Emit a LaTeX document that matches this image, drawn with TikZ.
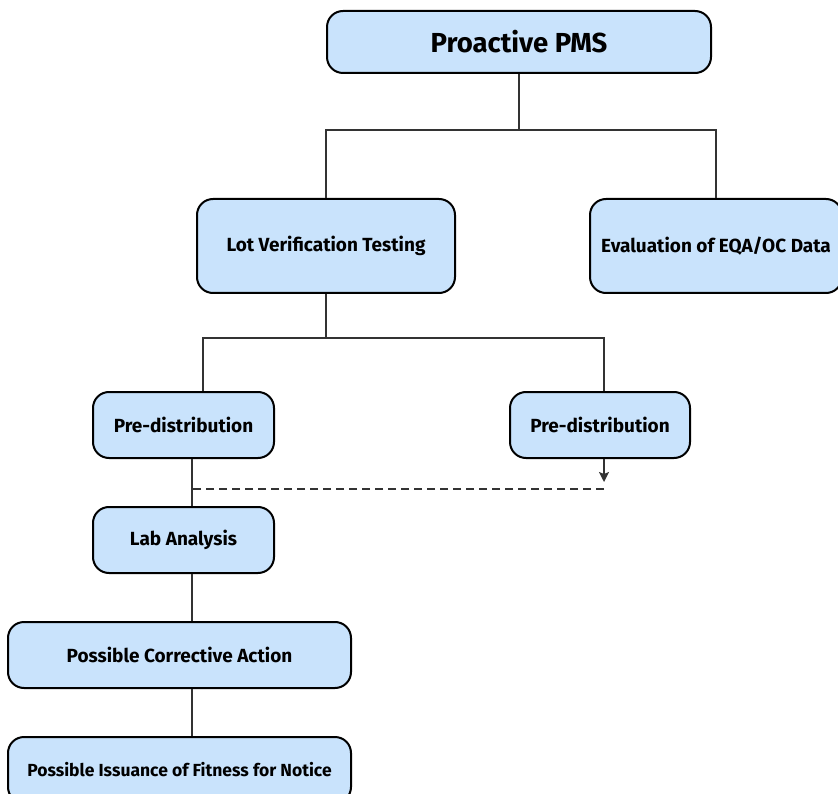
\documentclass[tikz,border=0pt]{standalone}
\usepackage{fontspec}
\setmainfont{Fira Sans}
\usetikzlibrary{arrows.meta}
\definecolor{boxblue}{RGB}{201,227,252}
\definecolor{linegray}{RGB}{51,51,51}
\tikzset{
  stage/.style={draw=black, line width=2pt, fill=boxblue, rounded corners=16pt,
    inner sep=0pt, minimum height=66pt, font=\bfseries\fontsize{19}{22}\selectfont},
  link/.style={draw=linegray, line width=1.4pt},
}
\begin{document}
\begin{tikzpicture}[x=1pt,y=-1pt]
\useasboundingbox (0,0) rectangle (838,794);
% boxes
\node[stage, minimum width=384pt, minimum height=62pt, font=\bfseries\fontsize{27.5}{32}\selectfont] (pms) at (519,42) {Proactive PMS};
\node[stage, minimum width=258pt, minimum height=94pt] (lot) at (326,246) {Lot Verification Testing};
\node[stage, minimum width=252pt, minimum height=94pt] (eval) at (716,246) {Evaluation of EQA/OC Data};
\node[stage, minimum width=181pt] (predl) at (183.5,425) {Pre-distribution};
\node[stage, minimum width=180pt] (predr) at (600,425) {Pre-distribution};
\node[stage, minimum width=181pt] (lab) at (183.5,540) {Lab Analysis};
\node[stage, minimum width=343pt] (corr) at (179.5,655) {Possible Corrective Action};
\node[stage, minimum width=343pt, font=\bfseries\fontsize{17.5}{20}\selectfont] (fit) at (179.5,770) {Possible Issuance of Fitness for Notice};
% branch points
\coordinate (pmssplit) at (519,130);
\coordinate (lotsplit) at (326,338);
\coordinate (spine) at (192,0);
\coordinate (dashend) at (604,489);
% connectors
\draw[link] (pms.south) -- (pmssplit);
\draw[link] (lot.north) |- (pmssplit) -| (eval.north);
\draw[link] (lot.south) -- (lotsplit);
\draw[link] ([xshift=19.5pt]predl.north) |- (lotsplit) -| ([xshift=4pt]predr.north);
\draw[link, -{Stealth[length=10pt,width=10pt,inset=2pt]}] ([xshift=4pt]predr.south) -- ([yshift=7pt]dashend);
\draw[link, dash pattern=on 8pt off 5pt] (dashend) -- (dashend -| spine);
\draw[link] (predl.south -| spine) -- (lab.north -| spine);
\draw[link] (lab.south -| spine) -- (corr.north -| spine);
\draw[link] (corr.south -| spine) -- (fit.north -| spine);
\end{tikzpicture}
\end{document}
